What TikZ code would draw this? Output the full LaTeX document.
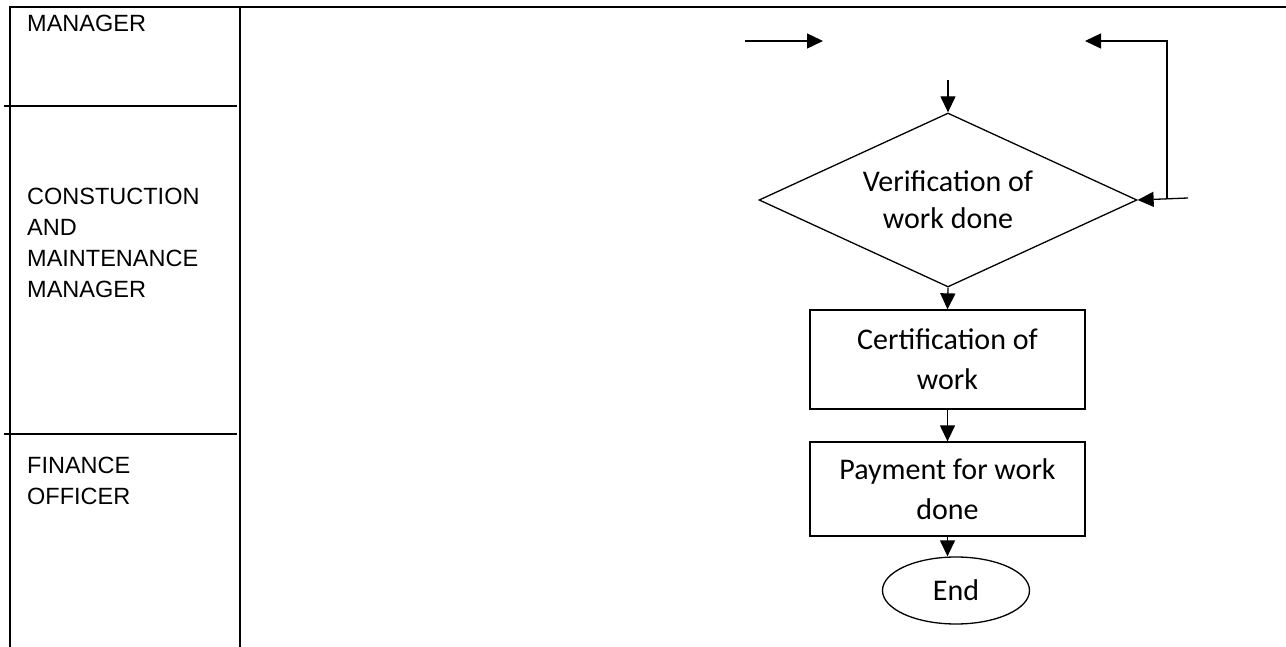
\documentclass[tikz,border=0pt]{standalone}
\usepackage{fontspec}
\setmainfont{Carlito}
\newfontfamily\lanefont{Liberation Sans}
\usetikzlibrary{shapes.geometric,arrows.meta}
\begin{document}
\begin{tikzpicture}[x=1pt,y=-1pt,
  lane/.style={line width=2pt},
  conn/.style={line width=1.3pt,-{Triangle[length=16pt,width=15pt]}},
  flow/.style={draw,line width=1.3pt,inner sep=0pt,align=center,font=\fontsize{30}{40}\selectfont},
  box/.style={flow,rectangle,minimum width=275pt},
  lbl/.style={anchor=north west,align=left,inner sep=0pt,font=\lanefont\fontsize{23.5}{31}\selectfont}]
\useasboundingbox (0,0) rectangle (1286,647);
\fill[white] (0,0) rectangle (1286,647);

% swimlane frame
\draw[lane] (9,7) -- (1286,7);
\draw[lane] (10,7) -- (10,647);
\draw[lane] (240,7) -- (240,647);
\draw[lane] (4,106) -- (237,106);
\draw[lane] (4,434) -- (237,434);

% lane labels
\node[lbl] (l1) at (27,15) {MANAGER};
\node[lbl] (l2) at (27,188) {CONSTUCTION\\AND\\MAINTENANCE\\MANAGER};
\node[lbl] (l3) at (27,457) {FINANCE\\OFFICER};

% flowchart
\node[flow,diamond,shape aspect=2.17,minimum width=378pt,minimum height=174pt,
      font=\fontsize{30}{37}\selectfont] (ver) at (948,200) {Verification of\\work done};
\node[box,minimum height=99pt] (cert) at (947.5,359.5) {Certification of\\work};
\node[box,minimum height=94pt] (pay) at (947.5,489) {Payment for work\\done};
\node[flow,ellipse,minimum width=147pt,minimum height=67pt] (end) at (956,590.5) {End};

% connectors
\coordinate (a1) at (745,41);
\coordinate (a2) at (823,41);
\draw[conn] (a1) -- (a2);
\coordinate (d0) at (948,80);
\draw[conn] (d0) -- (ver.north);
\draw[conn] (ver.south) -- (cert.north);
\draw[conn] (cert.south) -- (pay.north);
\draw[conn] (pay.south) -- (pay.south |- end.north);
\coordinate (r1) at (1188,198);
\draw[conn] (r1) -- (ver.east);
\coordinate (r2) at (1167,198);
\coordinate (r3) at (1085,41);
\draw[conn] (r2) |- (r3);
\end{tikzpicture}
\end{document}
